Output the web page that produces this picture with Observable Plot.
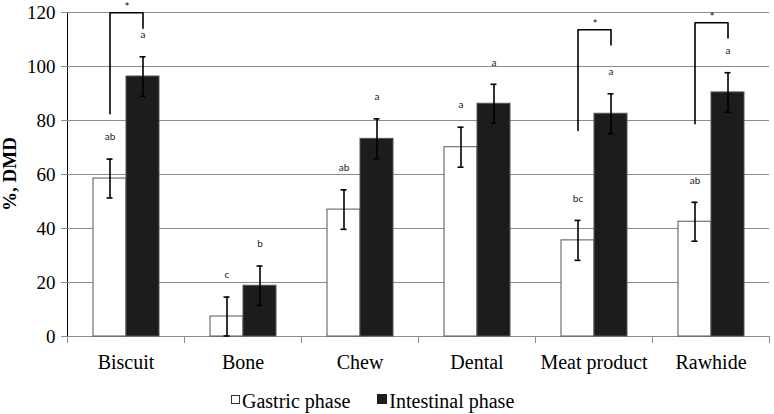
<!DOCTYPE html>
<html>
<head>
<meta charset="utf-8">
<script src="https://cdn.jsdelivr.net/npm/d3@7"></script>
<script src="https://cdn.jsdelivr.net/npm/@observablehq/plot@0.6"></script>
<style>
  body { margin: 0; background: #fff; }
  #wrap { position: relative; width: 774px; height: 414px; overflow: hidden; }
  #chart svg { display: block; }
  g[aria-label^="y-axis"] { color: #8c8c8c; }
  g[aria-label^="y-axis"] text { fill: #000; font-size: 19px; font-family: "Liberation Serif", serif; }
  g[aria-label^="fx-axis"] text { fill: #000; font-size: 20px; font-family: "Liberation Serif", serif; }
  #ylabel { position: absolute; left: -91px; top: 164px; width: 200px; height: 20px; line-height: 20px;
            text-align: center; transform: rotate(-90deg); font: bold 19px "Liberation Serif", serif; color: #000; }
  #legend { margin-top: 5px; padding-left: 231px; font: 20px/24px "Liberation Serif", serif; color: #000; white-space: nowrap; }
  .sw { display: inline-block; vertical-align: baseline; margin-bottom: 4px; }
  .sw.g { width: 7px; height: 7px; border: 1px solid #333; background: #fff; margin-right: 2px; }
  .sw.i { width: 10px; height: 10px; background: #1c1c1c; margin-left: 27px; margin-right: 2px; }
</style>
</head>
<body>
<div id="wrap">
  <div id="chart"></div>
  <div id="ylabel">%, DMD</div>
  <div id="legend"><span class="sw g"></span>Gastric phase<span class="sw i"></span>Intestinal phase</div>
</div>
<script>
// ---- data ----
const categories = ["Biscuit", "Bone", "Chew", "Dental", "Meat product", "Rawhide"];
const phases = ["Gastric phase", "Intestinal phase"];
const gastric = [58.5, 7.4, 47.0, 70.1, 35.6, 42.5];
const intestinal = [96.3, 18.8, 73.2, 86.2, 82.5, 90.4];
const gastricErr = [7.2, 7.2, 7.3, 7.4, 7.4, 7.2];
const intestinalErr = [7.3, 7.3, 7.4, 7.2, 7.4, 7.3];
const gastricLetters = ["ab", "c", "ab", "a", "bc", "ab"];
const intestinalLetters = ["a", "b", "a", "a", "a", "a"];
const yTicks = [0, 20, 40, 60, 80, 100, 120];
// significance brackets (gastric vs intestinal)
const sigCategories = ["Biscuit", "Meat product", "Rawhide"];
const sigLeftLow = [82.5, 76.3, 78.8];
const sigTop = [119.9, 113.6, 116.2];
const sigRightLow = [114.2, 108.0, 110.6];
const sigLabel = ["*", "*", "*"];

// ---- tables built from the arrays ----
const rows = [];
categories.forEach((c, i) => {
  rows.push({category: c, phase: phases[0], value: gastric[i], err: gastricErr[i], letter: gastricLetters[i]});
  rows.push({category: c, phase: phases[1], value: intestinal[i], err: intestinalErr[i], letter: intestinalLetters[i]});
});
const bracketPts = [];
sigCategories.forEach((c, i) => {
  bracketPts.push({category: c, phase: phases[0], y: sigLeftLow[i]});
  bracketPts.push({category: c, phase: phases[0], y: sigTop[i]});
  bracketPts.push({category: c, phase: phases[1], y: sigTop[i]});
  bracketPts.push({category: c, phase: phases[1], y: sigRightLow[i]});
});
const stars = sigCategories.map((c, i) => ({category: c, phase: phases[0], y: sigTop[i], label: sigLabel[i]}));

const chart = Plot.plot({
  width: 774,
  height: 384,
  marginTop: 12,
  marginBottom: 48,
  marginLeft: 65,
  marginRight: 3,
  style: {fontFamily: "'Liberation Serif', serif", fontSize: "20px", color: "#000", background: "#fff", overflow: "visible"},
  fx: {domain: categories, padding: 0, axis: "bottom", label: null, tickSize: 0, tickPadding: 18},
  x: {domain: phases, paddingInner: 0, paddingOuter: 0.73, axis: null},
  y: {domain: [0, 120], ticks: yTicks, tickSize: 6, tickPadding: 6, line: true, label: null},
  marks: [
    Plot.ruleY(yTicks, {y: d => d, stroke: "#8c8c8c", strokeWidth: 1}),
    Plot.frame({anchor: "left", insetTop: 324, insetBottom: -6, stroke: "#8c8c8c", strokeWidth: 1}),
    Plot.frame({anchor: "right", insetTop: 324, insetBottom: -6, stroke: "#8c8c8c", strokeWidth: 1}),
    Plot.barY(rows, {fx: "category", x: "phase", y: "value",
      fill: d => d.phase === phases[0] ? "#ffffff" : "#1c1c1c", stroke: "#555", strokeWidth: 1}),
    Plot.ruleX(rows, {fx: "category", x: "phase", y1: d => Math.max(0, d.value - d.err), y2: d => d.value + d.err,
      stroke: "#000", strokeWidth: 1.6}),
    Plot.tickY(rows, {fx: "category", x: "phase", y: d => d.value + d.err, insetLeft: 13.5, insetRight: 13.5, stroke: "#000", strokeWidth: 1.6}),
    Plot.tickY(rows, {fx: "category", x: "phase", y: d => Math.max(0, d.value - d.err), insetLeft: 13.5, insetRight: 13.5, stroke: "#000", strokeWidth: 1.6}),
    Plot.text(rows, {fx: "category", x: "phase", y: d => d.value + d.err, text: "letter", dy: -22,
      fontFamily: "Lato, sans-serif", fontSize: 10, fill: "#222"}),
    Plot.line(bracketPts, {fx: "category", x: "phase", y: "y", z: "category", stroke: "#000", strokeWidth: 1.6}),
    Plot.text(stars, {fx: "category", x: "phase", y: "y", text: "label", dx: 17, dy: -5,
      fontFamily: "Lato, sans-serif", fontSize: 11, fill: "#000"})
  ]
});
document.getElementById("chart").appendChild(chart);
</script>
</body>
</html>
